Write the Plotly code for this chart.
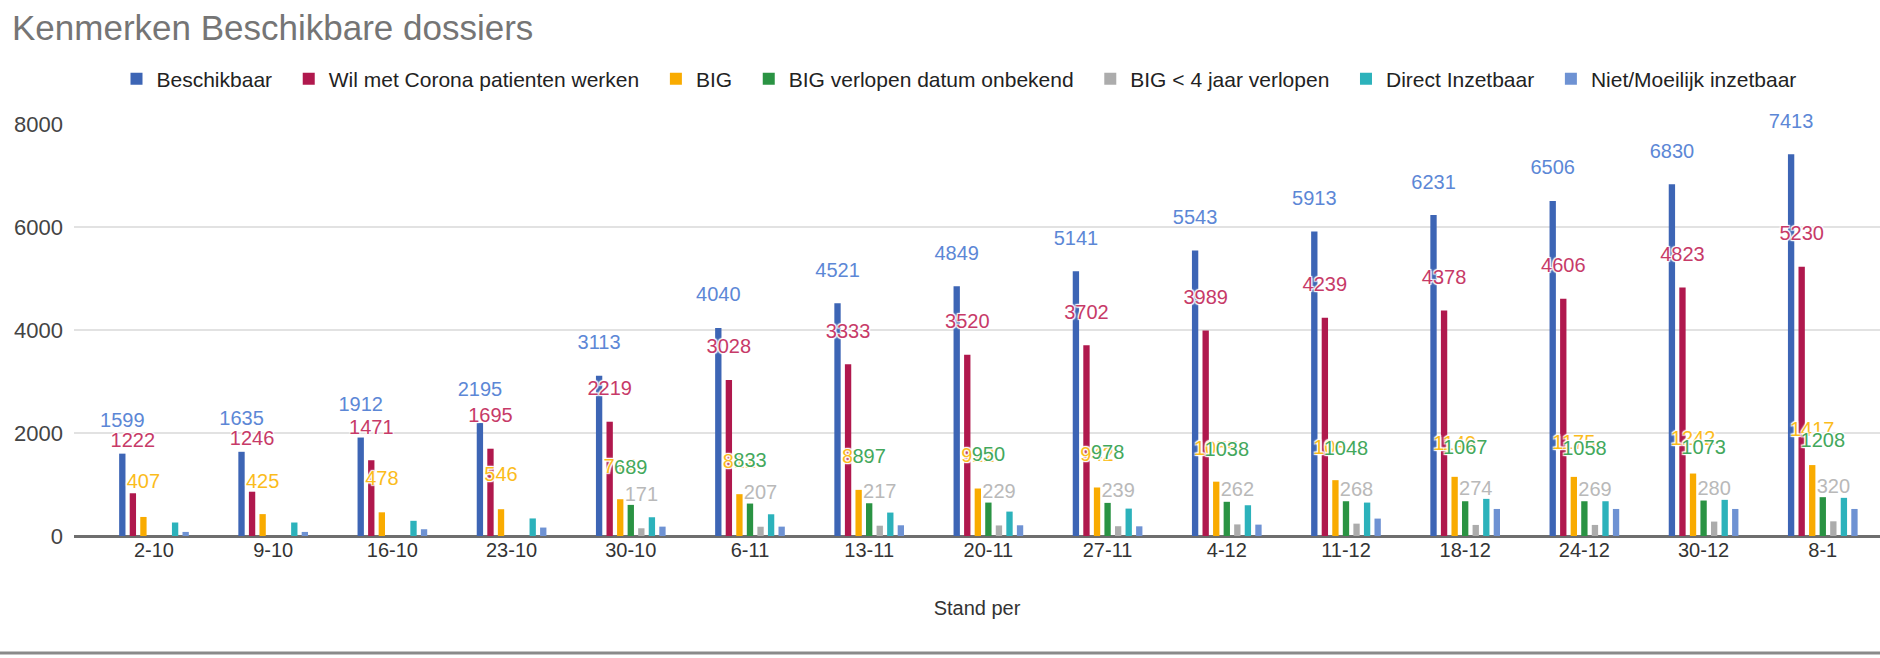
import plotly.graph_objects as go

# ---------------- data ----------------
categories = ["2-10", "9-10", "16-10", "23-10", "30-10", "6-11", "13-11", "20-11",
              "27-11", "4-12", "11-12", "18-12", "24-12", "30-12", "8-1"]

series_names = ["Beschikbaar", "Wil met Corona patienten werken", "BIG",
                "BIG verlopen datum onbekend", "BIG < 4 jaar verlopen",
                "Direct Inzetbaar", "Niet/Moeilijk inzetbaar"]

# bar heights (as drawn)
beschikbaar = [1599, 1635, 1912, 2195, 3113, 4040, 4521, 4849, 5141, 5543, 5913, 6231, 6506, 6830, 7413]
corona = [830, 860, 1471, 1695, 2219, 3028, 3333, 3520, 3702, 3989, 4239, 4378, 4606, 4823, 5230]
big = [370, 425, 460, 520, 714, 812, 896, 922, 942, 1055, 1084, 1149, 1148, 1213, 1377]
big_verlopen = [None, None, None, None, 604, 630, 636, 649, 643, 664, 675, 675, 675, 689, 754]
big_4jaar = [None, None, None, None, 150, 180, 200, 205, 190, 225, 240, 215, 215, 280, 285]
direct = [262, 262, 295, 341, 364, 422, 455, 474, 532, 597, 649, 721, 675, 702, 741]
niet = [79, 79, 131, 164, 182, 182, 208, 208, 188, 221, 338, 525, 525, 525, 525]

# data labels (as printed)
beschikbaar_labels = [1599, 1635, 1912, 2195, 3113, 4040, 4521, 4849, 5141, 5543, 5913, 6231, 6506, 6830, 7413]
corona_labels = [1222, 1246, 1471, 1695, 2219, 3028, 3333, 3520, 3702, 3989, 4239, 4378, 4606, 4823, 5230]
big_labels = [407, 425, 478, 546, 714, 812, 896, 922, 942, 1055, 1084, 1149, 1175, 1242, 1417]
big_verlopen_labels = [None, None, None, None, 689, 833, 897, 950, 978, 1038, 1048, 1067, 1058, 1073, 1208]
big_4jaar_labels = [None, None, None, None, 171, 207, 217, 229, 239, 262, 268, 274, 269, 280, 320]

y_ticks = [0, 2000, 4000, 6000, 8000]

# ---------------- style ----------------
bar_colors = ["#3d65b5", "#b0184d", "#f9ab00", "#2a9343", "#acacac", "#2cb2bb", "#6e92d3"]
label_colors = ["#5c87d6", "#c73a68", "#fbbc1c", "#43a85c", "#b9b9b9"]
FONT = "Liberation Sans, Arial, sans-serif"
NBSP = "\u00a0"

bars = [beschikbaar, corona, big, big_verlopen, big_4jaar, direct, niet]
labels = [beschikbaar_labels, corona_labels, big_labels, big_verlopen_labels, big_4jaar_labels]

fig = go.Figure()
n = len(series_names)
for k, (name, vals) in enumerate(zip(series_names, bars)):
    shown = name + (NBSP * 2 if k < n - 1 else "")
    fig.add_trace(go.Bar(
        x=categories, y=vals, name=shown, offsetgroup=str(k), alignmentgroup="g",
        marker=dict(color=bar_colors[k], line=dict(width=0)),
        hoverinfo="skip",
    ))

halo = "1px 1px 1px #fff, -1px -1px 1px #fff, 1px -1px 1px #fff, -1px 1px 1px #fff, 0 0 3px #fff"
for k, labs in enumerate(labels):
    fig.add_trace(go.Bar(
        x=categories, y=labs, offsetgroup=str(k), alignmentgroup="g", yaxis="y2",
        showlegend=False,
        marker=dict(color="rgba(0,0,0,0)", line=dict(width=0)),
        text=[("" if v is None else str(v)) for v in labs],
        texttemplate="%{text}",
        textposition="outside", textangle=0, constraintext="none", cliponaxis=False,
        textfont=dict(family=FONT, size=20, color=label_colors[k], shadow=halo),
        hoverinfo="skip",
    ))

W, H = 1880, 658
L, R, T, B = 74, 0, 124, 122
pw, ph = W - L - R, H - T - B
YMAX = 8000
label_lift = 380  # label axis offset so labels float above their level like the original

fig.update_layout(
    width=W, height=H,
    margin=dict(l=L, r=R, t=T, b=B),
    paper_bgcolor="white", plot_bgcolor="white",
    barmode="group", bargap=0.38, bargroupgap=0.4,
    title=dict(text="Kenmerken Beschikbare dossiers", xref="container", yref="container",
               x=12 / W, xanchor="left", y=1 - 28 / H, yanchor="middle",
               font=dict(family=FONT, size=35, color="#757575")),
    legend=dict(orientation="h", x=(959 - L) / pw, xanchor="center",
                y=(536 - 79) / ph, yanchor="middle",
                font=dict(family=FONT, size=21, color="#222222"),
                itemwidth=30, traceorder="normal"),
    showlegend=True,
    font=dict(family=FONT),
    xaxis=dict(type="category", range=[-0.671, 14.48], showgrid=False,
               tickfont=dict(family=FONT, size=20, color="#333333"),
               ticks="", showline=False, zeroline=False,
               title=dict(text="Stand per", standoff=40,
                          font=dict(family=FONT, size=20, color="#333333"))),
    yaxis=dict(range=[0, YMAX], tickvals=y_ticks, showgrid=True,
               gridcolor="#e2e2e2", gridwidth=2,
               zeroline=True, zerolinecolor="#6e6e6e", zerolinewidth=3,
               tickfont=dict(family=FONT, size=22, color="#444444"),
               ticks="", ticklabelstandoff=10, showline=False),
    yaxis2=dict(range=[-label_lift, YMAX - label_lift], overlaying="y", side="right",
                showgrid=False, zeroline=False, showticklabels=False, ticks="",
                showline=False),
    shapes=[dict(type="line", xref="paper", yref="paper",
                 x0=-L / pw, x1=1.0, y0=(536 - 653) / ph, y1=(536 - 653) / ph,
                 line=dict(color="#8a8a8a", width=3))],
)

fig.write_html("out.html")
